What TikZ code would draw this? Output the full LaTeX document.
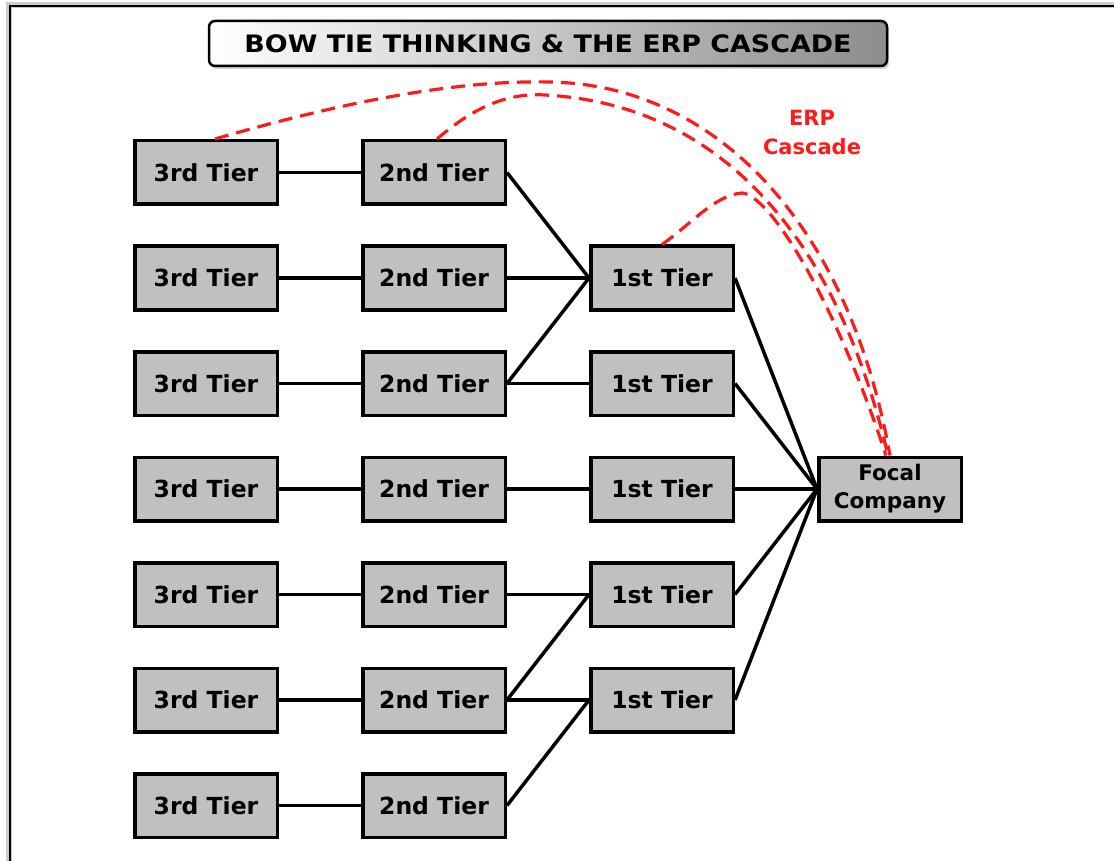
\documentclass[tikz,border=0pt]{standalone}
\usepackage{fontspec}
\setmainfont{DejaVu Sans}
\usetikzlibrary{shadows}
\definecolor{boxgray}{HTML}{C0C0C0}
\definecolor{erpred}{HTML}{FF1A1A}
\begin{document}
\begin{tikzpicture}[x=1pt,y=-1pt,
  tier/.style={draw=black, line width=3.5pt, fill=boxgray, minimum width=142.5pt, minimum height=63.5pt, inner sep=0pt, font=\fontsize{23.5}{27}\selectfont\bfseries},
  link/.style={line width=3.5pt, black},
  erp/.style={erpred, line width=3.2pt, dash pattern=on 14pt off 8pt},
  titlebox/.style={draw=black, line width=2.5pt, rounded corners=6pt, minimum width=678pt, minimum height=45pt, inner sep=0pt,
    left color=white, middle color=black!8, right color=black!45,
    drop shadow={shadow xshift=2pt, shadow yshift=-3pt, opacity=0.35},
    font=\fontsize{24}{28}\selectfont\bfseries},
  erptext/.style={text=erpred, align=center, font=\fontsize{21}{29}\selectfont\bfseries},
]
\useasboundingbox (0,0) rectangle (1114,861);
% frame
\draw[line width=6pt, black!20] (9,861) -- (9,5) -- (1114,5);
\draw[line width=2.5pt, black] (10,861) -- (10,6) -- (1114,6);
% title
\node[titlebox] (title) at (548,43.5) {\scalebox{1.12}[1]{BOW TIE THINKING \& THE ERP CASCADE}};
% 3rd tier
\node[tier] (t1) at (206,172.5) {3rd Tier};
\node[tier] (t2) at (206,278) {3rd Tier};
\node[tier] (t3) at (206,383.5) {3rd Tier};
\node[tier] (t4) at (206,489) {3rd Tier};
\node[tier] (t5) at (206,594.5) {3rd Tier};
\node[tier] (t6) at (206,700) {3rd Tier};
\node[tier] (t7) at (206,805.5) {3rd Tier};
% 2nd tier
\node[tier] (s1) at (434,172.5) {2nd Tier};
\node[tier] (s2) at (434,278) {2nd Tier};
\node[tier] (s3) at (434,383.5) {2nd Tier};
\node[tier] (s4) at (434,489) {2nd Tier};
\node[tier] (s5) at (434,594.5) {2nd Tier};
\node[tier] (s6) at (434,700) {2nd Tier};
\node[tier] (s7) at (434,805.5) {2nd Tier};
% 1st tier
\node[tier] (f2) at (662,278) {1st Tier};
\node[tier] (f3) at (662,383.5) {1st Tier};
\node[tier] (f4) at (662,489) {1st Tier};
\node[tier] (f5) at (662,594.5) {1st Tier};
\node[tier] (f6) at (662,700) {1st Tier};
% focal
\node[tier, align=center, font=\fontsize{21.5}{28}\selectfont\bfseries] (focal) at (890,489) {Focal\\Company};
% ERP label
\node[erptext] (erplabel) at (812,132) {ERP\\Cascade};
% links 3rd-2nd
\foreach \i in {1,...,7} \draw[link] (t\i.east) -- (s\i.west);
% links 2nd-1st
\draw[link] (s1.east) -- (f2.west);
\draw[link] (s2.east) -- (f2.west);
\draw[link] (s3.east) -- (f2.west);
\draw[link] (s3.east) -- (f3.west);
\draw[link] (s4.east) -- (f4.west);
\draw[link] (s5.east) -- (f5.west);
\draw[link] (s6.east) -- (f5.west);
\draw[link] (s6.east) -- (f6.west);
\draw[link] (s7.east) -- (f6.west);
% links 1st-focal
\foreach \i in {2,...,6} \draw[link] (f\i.east) -- (focal.west);
% ERP cascade curves
\draw[erp] ([xshift=9pt]t1.north) .. controls (350,100) and (460,80) .. (550,82)
  .. controls (720,85) and (850,230) .. (focal.north);
\draw[erp] ([xshift=3pt]s1.north) .. controls (465,115) and (500,92) .. (545,95)
  .. controls (730,105) and (840,250) .. ([xshift=-2pt]focal.north);
\draw[erp] (f2.north) .. controls (690,225) and (715,195) .. (742,193)
  .. controls (770,195) and (835,300) .. ([xshift=-4pt]focal.north);
\end{tikzpicture}
\end{document}
